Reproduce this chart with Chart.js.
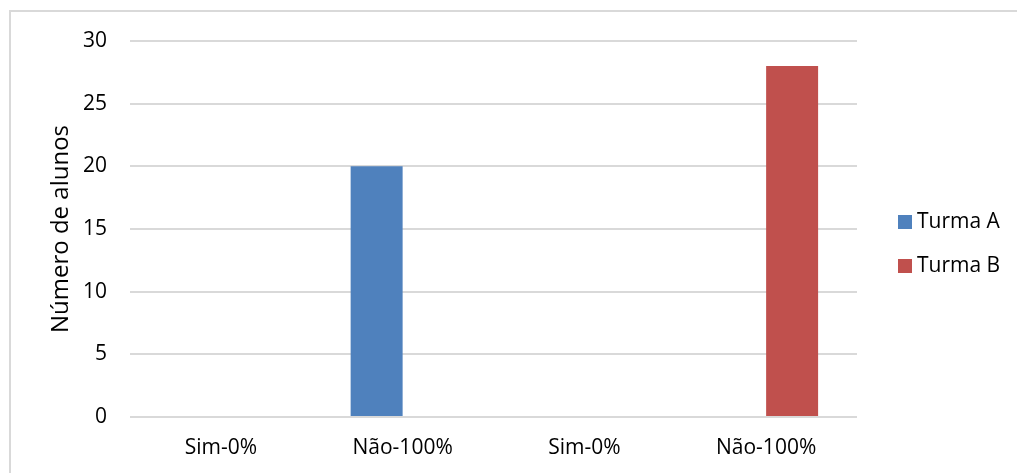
<!DOCTYPE html>
<html>
<head>
<meta charset="utf-8">
<script src="https://cdn.jsdelivr.net/npm/chart.js@4"></script>
<style>
html,body{margin:0;padding:0;background:#fff;}
#wrap{width:1017px;height:473px;position:relative;}
</style>
</head>
<body>
<div id="wrap"><canvas id="c" width="1017" height="473"></canvas></div>
<script>
const categories = ["Sim-0%", "Não-100%", "Sim-0%", "Não-100%"];
const turmaA = [0, 20, 0, 0];
const turmaB = [0, 0, 0, 28];
const seriesNames = ["Turma A", "Turma B"];
const seriesColors = ["#4f81bd", "#c0504d"];
const yTitle = "Número de alunos";

const FONT = "'Open Sans', sans-serif";

const frameAndLegend = {
  id: 'frameAndLegend',
  beforeDraw(chart) {
    const ctx = chart.ctx;
    ctx.save();
    ctx.fillStyle = '#fff';
    ctx.fillRect(0, 0, chart.width, chart.height);
    ctx.strokeStyle = '#d9d9d9';
    ctx.lineWidth = 2;
    ctx.strokeRect(10, 11, chart.width + 20, chart.height + 20);
    ctx.restore();
  },
  afterDraw(chart) {
    const ctx = chart.ctx;
    ctx.save();
    ctx.font = "21px " + FONT;
    ctx.textBaseline = 'middle';
    ctx.textAlign = 'left';
    const ys = [222, 266];
    chart.data.datasets.forEach((ds, i) => {
      ctx.fillStyle = ds.backgroundColor;
      ctx.fillRect(898, ys[i] - 7, 14, 14);
      ctx.fillStyle = '#000';
      ctx.fillText(ds.label, 917, ys[i]);
    });
    ctx.restore();
  }
};

new Chart(document.getElementById('c'), {
  type: 'bar',
  data: {
    labels: categories,
    datasets: [
      { label: seriesNames[0], data: turmaA, backgroundColor: seriesColors[0] },
      { label: seriesNames[1], data: turmaB, backgroundColor: seriesColors[1] }
    ]
  },
  options: {
    responsive: false,
    animation: false,
    devicePixelRatio: 1,
    layout: { padding: { top: 41, right: 160, bottom: 0, left: 0 } },
    datasets: { bar: { barPercentage: 1.0, categoryPercentage: 0.572 } },
    plugins: { legend: { display: false }, tooltip: { enabled: false } },
    scales: {
      x: {
        grid: { display: false, drawTicks: false },
        border: { display: false },
        ticks: { color: '#000', font: { family: FONT, size: 21 }, padding: 18, maxRotation: 0 },
        afterFit(s) { s.height = 56; }
      },
      y: {
        min: 0, max: 30,
        ticks: { stepSize: 5, color: '#000', font: { family: FONT, size: 21 }, padding: 23 },
        grid: { color: '#d9d9d9', lineWidth: 2, drawTicks: false, tickLength: 0 },
        border: { display: false },
        title: { display: true, text: yTitle, color: '#000', font: { family: FONT, size: 24 }, padding: { top: 47, bottom: 0 } },
        afterFit(s) { s.width = 130; }
      }
    }
  },
  plugins: [frameAndLegend]
});
</script>
</body>
</html>
